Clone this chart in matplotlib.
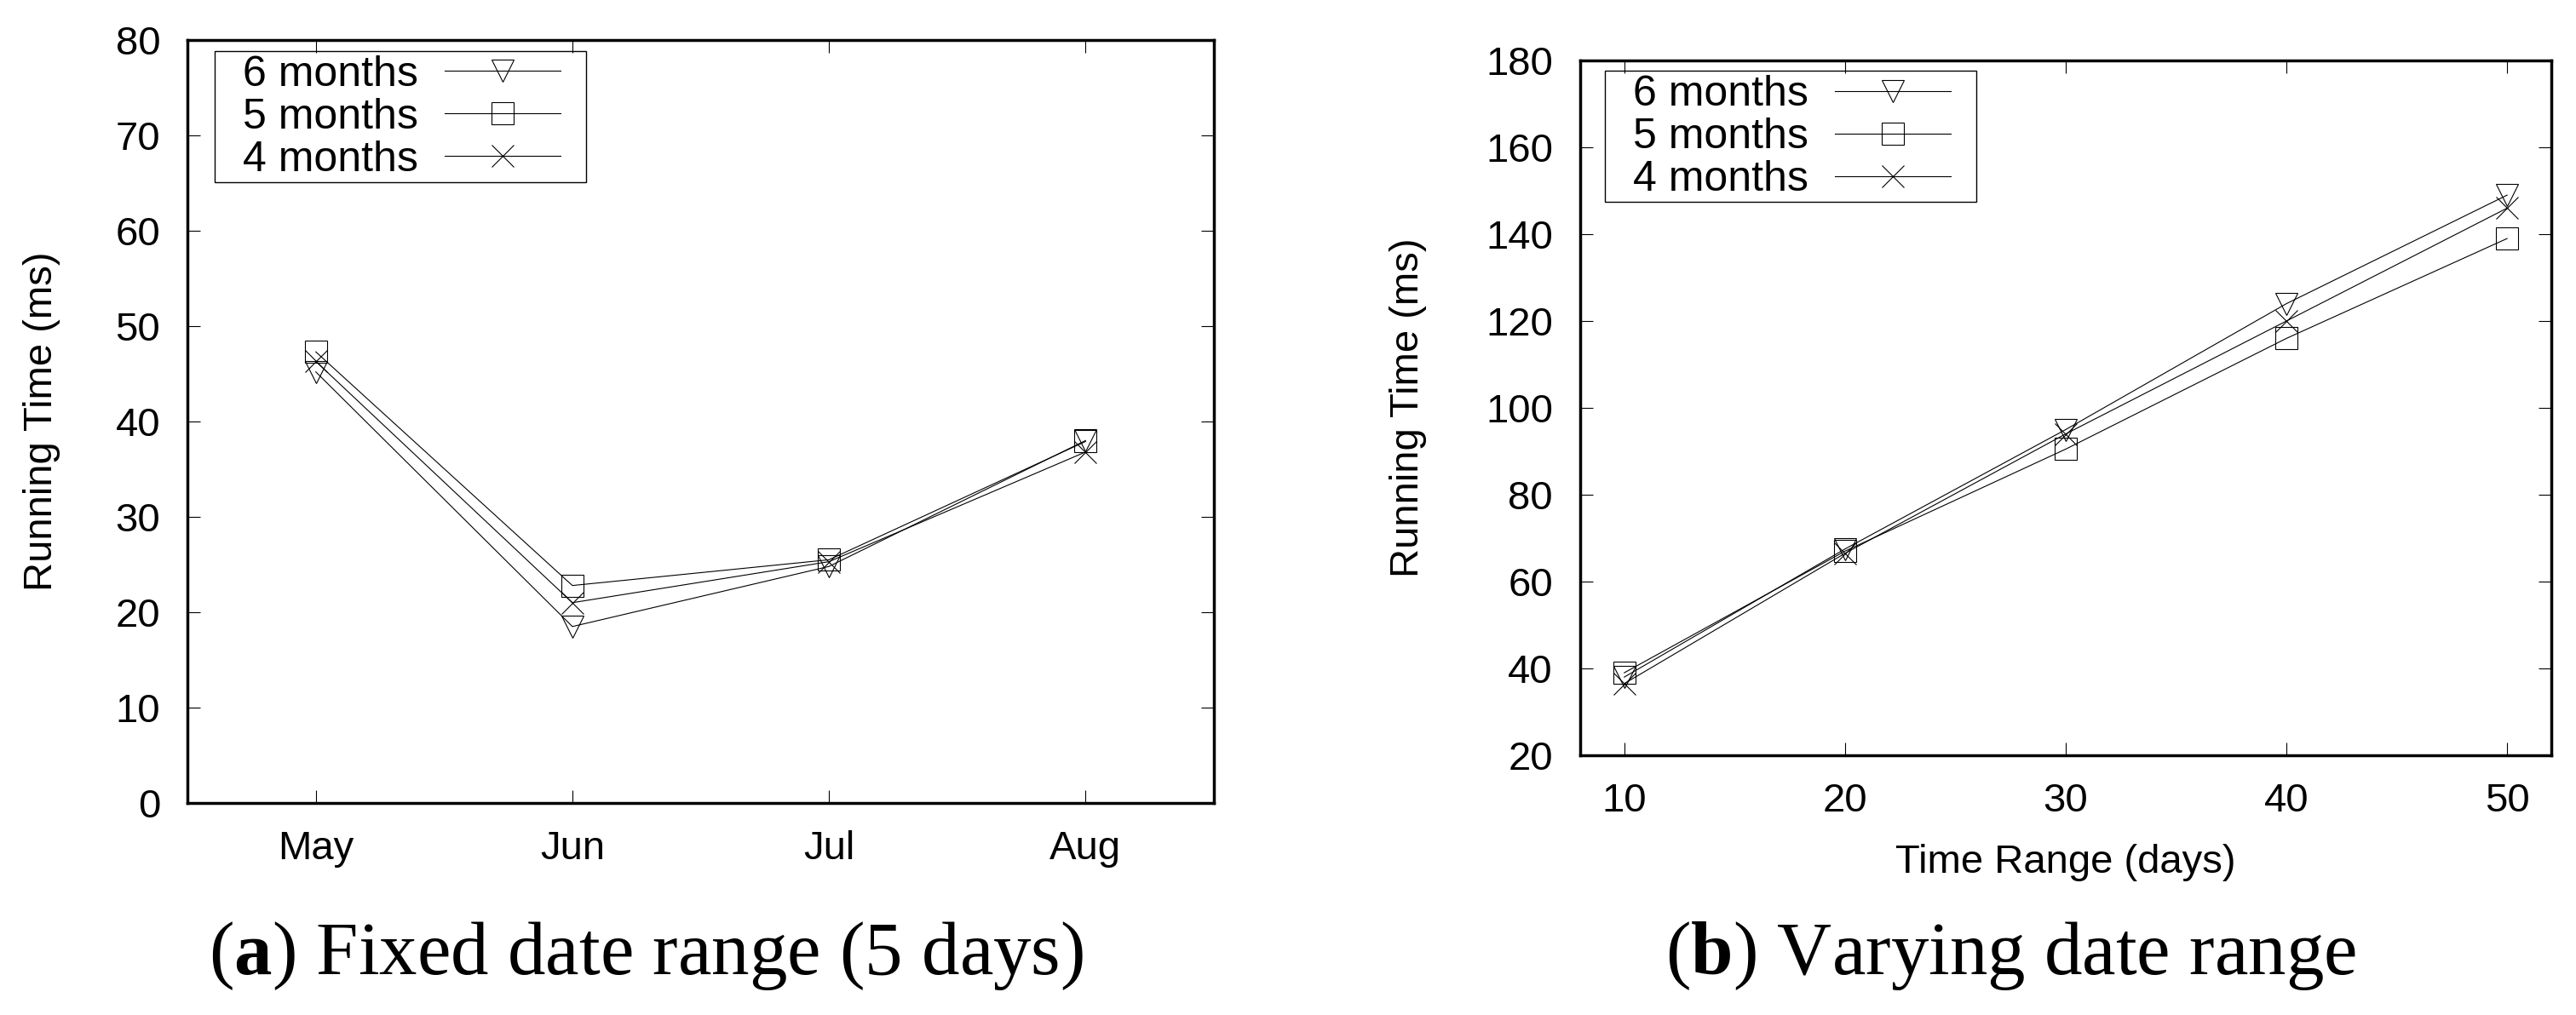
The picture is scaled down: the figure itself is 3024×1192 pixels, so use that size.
import matplotlib
matplotlib.use("Agg")
import matplotlib.pyplot as plt
from matplotlib.patches import Rectangle

plt.rcParams['font.family'] = ['Liberation Sans', 'DejaVu Sans']
plt.rcParams['mathtext.fontset'] = 'custom'
plt.rcParams['mathtext.rm'] = 'Liberation Serif'
plt.rcParams['mathtext.bf'] = 'Liberation Serif:bold'

# (a) fixed date range
months = ['May', 'Jun', 'Jul', 'Aug']
a_6m = [45.2, 18.5, 24.8, 38.0]
a_5m = [47.3, 22.8, 25.5, 37.9]
a_4m = [46.3, 21.0, 25.3, 36.8]

# (b) varying date range
days = [10, 20, 30, 40, 50]
b_6m = [38.0, 67.5, 95.0, 124.0, 149.0]
b_5m = [39.0, 67.0, 90.5, 116.0, 139.0]
b_4m = [36.5, 66.5, 94.0, 120.0, 146.0]

labels = ['6 months', '5 months', '4 months']
markers = ['v', 's', 'x']
FS = 34
LEG_FS = 36

fig = plt.figure(figsize=(30.24, 11.92), dpi=100)
ax1 = fig.add_axes([0.0728, 0.2089, 0.3984, 0.7517])
ax2 = fig.add_axes([0.6134, 0.2559, 0.3770, 0.6845])


def style(ax):
    for s in ax.spines.values():
        s.set_linewidth(2.5)
    ax.tick_params(direction='in', length=11, width=0.8, labelsize=FS,
                   top=True, right=True, pad=23)


def draw(ax, x, series, anchor):
    for y, lab, m in zip(series, labels, markers):
        ax.plot(x, y, color='black', lw=0.8, marker=m, markersize=19,
                markerfacecolor='none', markeredgecolor='black',
                markeredgewidth=0.8, label=lab)
    leg = ax.legend(loc='upper left', bbox_to_anchor=anchor, markerfirst=False,
                    fontsize=LEG_FS, frameon=False, handlelength=2.72,
                    borderpad=0, labelspacing=0.08, handletextpad=0.62,
                    borderaxespad=0)
    for t in leg.get_texts():
        t.set_ha('right')
    return leg


x_idx = list(range(len(months)))
leg1 = draw(ax1, x_idx, [a_6m, a_5m, a_4m], (0.054, 0.980))
ax1.set_xlim(-0.5, 3.5)
ax1.set_ylim(0, 80)
ax1.set_xticks(x_idx)
ax1.set_xticklabels(months)
ax1.set_yticks(range(0, 81, 10))
ax1.set_ylabel('Running Time (ms)', fontsize=FS)
ax1.yaxis.set_label_coords(-0.124, 0.5)
style(ax1)

leg2 = draw(ax2, days, [b_6m, b_5m, b_4m], (0.0544, 0.979))
ax2.set_xlim(8, 52)
ax2.set_ylim(20, 180)
ax2.set_xticks(days)
ax2.set_yticks(range(20, 181, 20))
ax2.set_ylabel('Running Time (ms)', fontsize=FS)
ax2.yaxis.set_label_coords(-0.158, 0.5)
ax2.set_xlabel('Time Range (days)', fontsize=FS, labelpad=20)
style(ax2)

# gnuplot-style key box: wider side padding than matplotlib's frame allows
fig.canvas.draw()
inv = fig.transFigure.inverted()
for leg in (leg1, leg2):
    bb = leg.get_window_extent(fig.canvas.get_renderer())
    (x0, y0), (x1, y1) = inv.transform([(bb.x0 - 33, bb.y0 - 3),
                                        (bb.x1 + 30, bb.y1 + 5)])
    fig.add_artist(Rectangle((x0, y0), x1 - x0, y1 - y0, transform=fig.transFigure,
                             fill=False, edgecolor='black', lw=1.0))

fig.text(0.2507, 0.0403, r'($\mathbf{a}$) Fixed date range (5 days)',
         fontsize=64, family='Liberation Serif', ha='center', va='baseline')
fig.text(0.7807, 0.0403, r'($\mathbf{b}$) Varying date range',
         fontsize=64, family='Liberation Serif', ha='center', va='baseline')

fig.savefig('out.png', dpi=100)
